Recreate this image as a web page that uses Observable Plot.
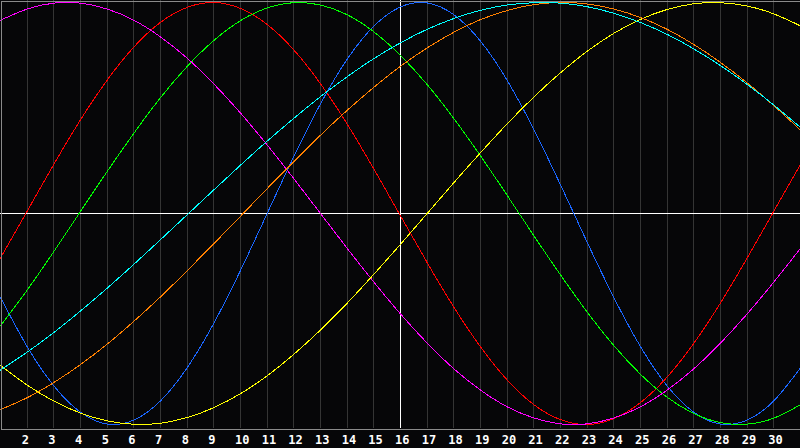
<!DOCTYPE html>
<html>
<head>
<meta charset="utf-8">
<script src="https://cdn.jsdelivr.net/npm/d3@7"></script>
<script src="https://cdn.jsdelivr.net/npm/@observablehq/plot@0.6"></script>
<style>
  html, body { margin: 0; padding: 0; background: #060608; }
  #chart svg { display: block; shape-rendering: crispEdges; }
</style>
</head>
<body>
<div id="chart"></div>
<script>
// Days of the month shown (x positions)
const days = [1,2,3,4,5,6,7,8,9,10,11,12,13,14,15,16,17,18,19,20,21,22,23,24,25,26,27,28,29,30,31];
// Tick labels / grid days
const tickDays = [2,3,4,5,6,7,8,9,10,11,12,13,14,15,16,17,18,19,20,21,22,23,24,25,26,27,28,29,30];
const today = 16;

// Cycle values (-1 .. 1), one per day
const physical = [-0.398,-0.631,-0.817,-0.942,-0.998,-0.979,-0.888,-0.731,-0.520,-0.270,0.000,0.270,0.520,0.731,0.888,0.979,0.998,0.942,0.817,0.631,0.398,0.136,-0.136,-0.398,-0.631,-0.817,-0.942,-0.998,-0.979,-0.888,-0.731];
const emotional = [-0.211,0.011,0.233,0.444,0.632,0.789,0.906,0.977,1.000,0.972,0.896,0.775,0.615,0.424,0.211,-0.011,-0.233,-0.444,-0.632,-0.789,-0.906,-0.977,-1.000,-0.972,-0.896,-0.775,-0.615,-0.424,-0.211,0.011,0.233];
const intellectual = [-0.533,-0.363,-0.180,0.010,0.199,0.380,0.549,0.697,0.820,0.914,0.974,0.999,0.988,0.942,0.861,0.749,0.611,0.450,0.273,0.086,-0.105,-0.291,-0.467,-0.626,-0.762,-0.871,-0.948,-0.991,-0.998,-0.970,-0.906];
const intuitive = [0.916,0.969,0.997,0.997,0.969,0.916,0.837,0.736,0.614,0.476,0.325,0.165,0.000,-0.165,-0.325,-0.476,-0.614,-0.736,-0.837,-0.916,-0.969,-0.997,-0.997,-0.969,-0.916,-0.837,-0.736,-0.614,-0.476,-0.325,-0.165];
const aesthetic = [-0.720,-0.813,-0.889,-0.946,-0.983,-0.999,-0.994,-0.967,-0.920,-0.854,-0.769,-0.667,-0.552,-0.425,-0.288,-0.146,0.000,0.146,0.288,0.425,0.552,0.667,0.769,0.854,0.920,0.967,0.994,0.999,0.983,0.946,0.889];
const awareness = [-0.929,-0.873,-0.801,-0.716,-0.619,-0.511,-0.395,-0.271,-0.143,-0.013,0.118,0.246,0.371,0.489,0.598,0.698,0.785,0.859,0.919,0.962,0.990,1.000,0.993,0.969,0.929,0.873,0.801,0.716,0.619,0.511,0.395];
const spiritual = [-0.742,-0.657,-0.564,-0.462,-0.354,-0.241,-0.124,-0.006,0.112,0.229,0.343,0.451,0.554,0.648,0.734,0.809,0.873,0.924,0.963,0.988,0.999,0.997,0.980,0.949,0.905,0.849,0.780,0.701,0.612,0.514,0.408];

const seriesNames = ["physical","emotional","intellectual","intuitive","aesthetic","awareness","spiritual"];
const seriesValues = [physical, emotional, intellectual, intuitive, aesthetic, awareness, spiritual];
const seriesColors = ["#1a66ff","#ff0000","#00ff00","#ff00ff","#ffff00","#ff8000","#00ffff"];

const lineMarks = seriesValues.map((vals, i) =>
  Plot.line(days.map((d, j) => ({day: d, value: vals[j], series: seriesNames[i]})), {
    x: "day", y: "value", stroke: seriesColors[i], strokeWidth: 1, curve: "natural"
  })
);

const chart = Plot.plot({
  width: 800,
  height: 448,
  marginTop: 2,
  marginBottom: 24,
  marginLeft: 0,
  marginRight: 0,
  style: {background: "#060608", color: "white"},
  x: {domain: [1, 31], axis: null},
  y: {domain: [-1, 1], axis: null},
  marks: [
    Plot.ruleX(tickDays, {stroke: "#343434", strokeWidth: 1, insetTop: -2, insetBottom: -4}),
    Plot.ruleY([0], {stroke: "#ffffff", strokeWidth: 1}),
    Plot.ruleX([today], {stroke: "#ffffff", strokeWidth: 1, insetTop: -2, insetBottom: -4}),
    ...lineMarks,
    Plot.frame({stroke: "#8a8a8a", strokeWidth: 1, insetTop: -1.5, insetBottom: -4.5, insetLeft: 0.5, insetRight: 0.5}),
    Plot.axisX(tickDays, {
      tickSize: 0, tickPadding: 10.5, label: null, textAnchor: "start", dx: -5.5,
      fill: "white", fontWeight: "bold", fontSize: 12, fontFamily: "DejaVu Sans Mono"
    })
  ]
});
document.getElementById("chart").append(chart);
</script>
</body>
</html>
